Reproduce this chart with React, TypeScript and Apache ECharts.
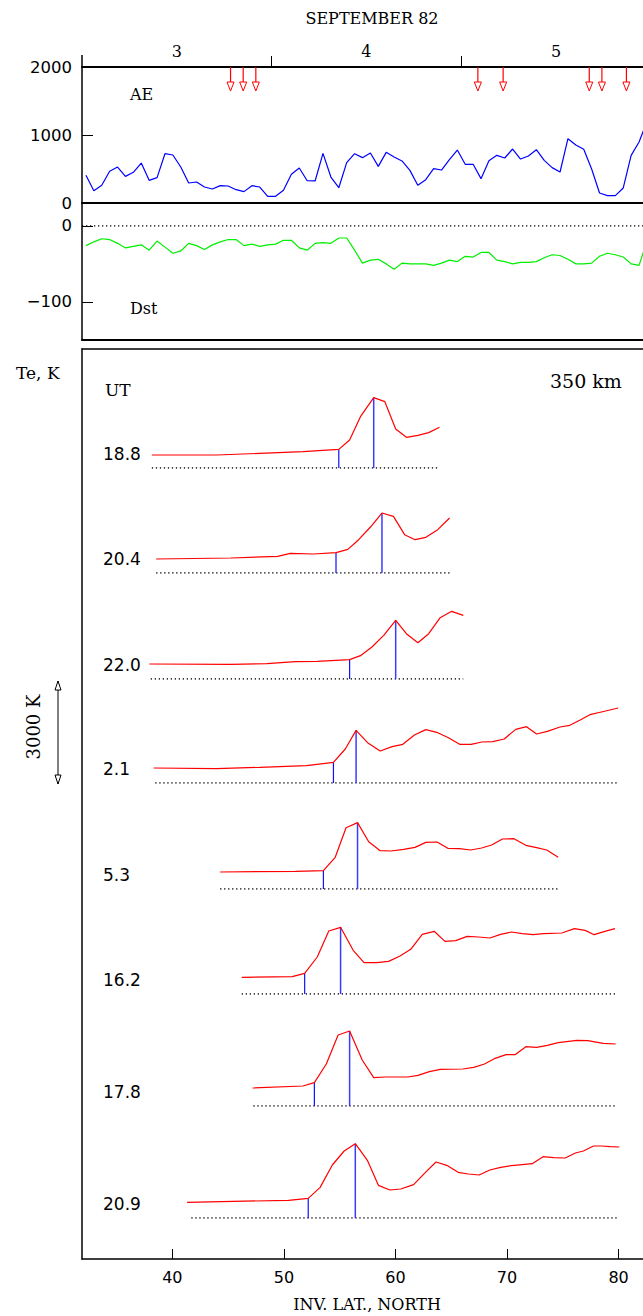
import React, { useEffect, useRef } from 'react';
import * as echarts from 'echarts';

// ---------- Top panels: hourly AE and Dst, 3-5 September 1982 (hours from 3 Sep 00 UT)
const DAYS = ['3', '4', '5'];
const AE = [407, 181, 260, 466, 529, 392, 451, 588, 333, 373, 725, 706, 529, 294, 309, 235, 206, 255, 250, 196,
  167, 255, 235, 98, 98, 186, 422, 515, 328, 324, 730, 382, 225, 593, 725, 667, 735, 539, 745, 676,
  618, 480, 260, 343, 505, 485, 637, 779, 569, 569, 358, 622, 701, 662, 794, 647, 691, 784, 627, 520,
  456, 946, 853, 789, 500, 147, 108, 108, 221, 701, 897, 1200];
const DST = [-26, -21, -17, -18, -23, -29, -27, -25, -32, -20, -28, -36, -33, -23, -26, -31, -25, -21, -18, -18,
  -26, -24, -27, -25, -24, -19, -19, -29, -32, -23, -22, -23, -16, -16, -32, -49, -45, -44, -50, -57,
  -49, -50, -50, -50, -52, -49, -45, -47, -40, -41, -35, -35, -45, -47, -50, -48, -48, -47, -42, -38,
  -39, -44, -50, -50, -49, -40, -36, -38, -41, -50, -52, -20];
const AE_TICKS = [0, 1000, 2000];
const DST_TICKS = [0, -100];

// ---------- Te profiles at 350 km (Te above the dotted reference, K)
const PROFILE_UT = ['18.8', '20.4', '22.0', '2.1', '5.3', '16.2', '17.8', '20.9'];
const PROFILE_DAY = [3, 3, 3, 5, 5, 5, 5, 5];

const LAT_188 = [38.16, 43.96, 47.83, 51.7, 54.92, 55.89, 56.86, 58.05, 59.05, 60.02, 60.98, 62.01, 62.98, 63.95];
const TE_188 = [371, 371, 419, 466, 533, 800, 1467, 2010, 1895, 1114, 876, 933, 1010, 1162];

const LAT_204 = [38.55, 45.25, 49.44, 50.57, 52.66, 54.67, 55.73, 56.7, 57.76, 58.79, 59.82, 60.82, 61.76, 62.72, 63.79, 64.85];
const TE_204 = [400, 429, 476, 562, 543, 581, 676, 952, 1314, 1714, 1619, 1095, 952, 1019, 1238, 1571];

const LAT_220 = [37.94, 45.25, 48.47, 51.05, 52.99, 55.89, 56.86, 57.89, 58.95, 60.02, 60.98, 62.01, 62.98, 64.01, 65.04, 66.08];
const TE_220 = [429, 419, 438, 495, 505, 552, 667, 914, 1248, 1676, 1295, 1038, 1295, 1752, 1933, 1819];

const LAT_21 = [38.32, 43.96, 47.83, 52.02, 54.44, 55.5, 56.47, 57.5, 58.63, 59.7, 60.66, 61.7, 62.72, 63.79, 64.75, 65.75,
  66.79, 67.75, 68.72, 69.75, 70.78, 71.75, 72.65, 73.62, 74.75, 75.62, 76.52, 77.43, 78.46, 79.97];
const TE_21 = [429, 410, 448, 495, 590, 971, 1505, 1152, 914, 1038, 1105, 1371, 1524, 1438, 1295, 1105,
  1105, 1171, 1181, 1257, 1533, 1610, 1400, 1476, 1600, 1648, 1791, 1952, 2029, 2143];

const LAT_53 = [44.28, 51.05, 53.54, 54.6, 55.57, 56.6, 57.6, 58.63, 59.6, 60.73, 61.76, 62.72, 63.73, 64.69, 65.72, 66.75,
  67.72, 68.62, 69.59, 70.62, 71.69, 72.65, 73.56, 74.59];
const TE_53 = [486, 505, 524, 905, 1752, 1895, 1352, 1095, 1086, 1133, 1190, 1333, 1343, 1162, 1152, 1114,
  1171, 1257, 1429, 1438, 1248, 1181, 1114, 905];

const LAT_162 = [46.22, 50.74, 51.86, 52.99, 54.02, 55.08, 56.21, 57.18, 58.31, 59.38, 60.41, 61.37, 62.4, 63.47, 64.44, 65.4,
  66.43, 67.43, 68.46, 69.43, 70.4, 71.36, 72.33, 73.3, 74.91, 76.04, 77.0, 77.81, 78.77, 79.68];
const TE_162 = [476, 495, 590, 1057, 1800, 1905, 1248, 895, 895, 933, 1086, 1276, 1705, 1791, 1505, 1524,
  1648, 1628, 1600, 1705, 1771, 1724, 1695, 1724, 1743, 1867, 1819, 1695, 1791, 1867];

const LAT_178 = [47.19, 51.7, 52.73, 53.8, 54.86, 55.89, 57.02, 58.05, 59.11, 61.11, 62.01, 63.04, 64.01, 66.04, 67.01, 67.98,
  68.94, 69.91, 70.72, 71.69, 72.65, 73.62, 74.59, 76.26, 77.24, 78.62, 79.74];
const TE_178 = [514, 571, 667, 1200, 2029, 2143, 1314, 810, 829, 829, 876, 981, 1048, 1057, 1105, 1200,
  1362, 1467, 1467, 1695, 1676, 1733, 1810, 1876, 1867, 1791, 1771];

const LAT_209 = [41.32, 50.41, 52.18, 53.25, 54.34, 55.4, 56.4, 57.5, 58.47, 59.5, 60.47, 61.63, 62.6, 63.63, 64.6, 65.62,
  66.53, 67.5, 68.46, 69.43, 70.4, 71.36, 72.26, 73.23, 74.19, 75.22, 76.13, 76.84, 77.75, 78.46, 79.27, 80.07];
const TE_209 = [448, 505, 562, 876, 1514, 1914, 2124, 1638, 933, 800, 829, 952, 1276, 1600, 1505, 1305,
  1257, 1229, 1371, 1448, 1495, 1524, 1552, 1752, 1724, 1714, 1857, 1914, 2057, 2057, 2038, 2029];

const PROFILE_LATS = [LAT_188, LAT_204, LAT_220, LAT_21, LAT_53, LAT_162, LAT_178, LAT_209];
const PROFILE_TES = [TE_188, TE_204, TE_220, TE_21, TE_53, TE_162, TE_178, TE_209];
const EDGE_LAT = [54.92, 54.67, 55.89, 54.44, 53.54, 51.86, 52.73, 52.18];
const PEAK_LAT = [58.05, 58.79, 60.02, 56.47, 56.6, 55.08, 55.89, 56.4];
const REF_START = [38.16, 38.55, 38.06, 38.47, 44.28, 46.22, 47.26, 41.7];
const REF_END = [63.95, 64.85, 66.08, 79.97, 74.59, 79.75, 79.81, 80.07];
const LAT_TICKS = [40, 50, 60, 70, 80];

// ---------- layout
const W = 643;
const H = 1316;
const LEFT = 82;
const BASELINES = [468, 573, 679, 783, 889, 994, 1106, 1218];
const PX_PER_3000K = 105;
const LAT_MIN = 31.9;
const LAT_MAX = 82.19;
const HOUR_MAX = 71;

const SERIF = 'DejaVu Serif';
const SANS = 'DejaVu Sans';

function interp(xs: number[], ys: number[], x: number) {
  for (let i = 0; i < xs.length - 1; i++) {
    if (x >= xs[i] && x <= xs[i + 1]) {
      const t = (x - xs[i]) / (xs[i + 1] - xs[i] || 1);
      return ys[i] + t * (ys[i + 1] - ys[i]);
    }
  }
  return ys[ys.length - 1];
}

function buildOption() {
  const hours = AE.map((_, i) => i + 0.5);
  const arrowHours = PROFILE_UT.map((ut, i) => (PROFILE_DAY[i] - 3) * 24 + parseFloat(ut));

  const grids: any[] = [
    { left: LEFT, right: 0, top: 67, height: 136 },   // 0 AE
    { left: LEFT, right: 0, top: 203, height: 137 },  // 1 Dst
    { left: LEFT, right: 0, top: 349, height: 910 },  // 2 lower frame
  ];
  const hidden = { show: false };
  const xAxes: any[] = [
    {
      gridIndex: 0, type: 'value', min: 0, max: HOUR_MAX, position: 'bottom',
      axisLine: { show: true, onZero: false, lineStyle: { color: '#000', width: 2 } },
      axisTick: hidden, axisLabel: hidden, splitLine: hidden,
    },
    {
      gridIndex: 0, type: 'value', min: 0, max: HOUR_MAX, position: 'top',
      axisLine: { show: true, onZero: false, lineStyle: { color: '#000', width: 2 } },
      axisTick: { show: true, inside: false, length: 11, customValues: [24, 48], lineStyle: { color: '#000', width: 1 } },
      axisLabel: {
        show: true, customValues: [12, 36, 60], margin: 8,
        formatter: (v: number) => DAYS[Math.floor(v / 24)],
        fontFamily: SERIF, fontSize: 16, color: '#000',
      },
      splitLine: hidden,
    },
    {
      gridIndex: 1, type: 'value', min: 0, max: HOUR_MAX, position: 'bottom',
      axisLine: { show: true, onZero: false, lineStyle: { color: '#000', width: 2 } },
      axisTick: hidden, axisLabel: hidden, splitLine: hidden,
    },
    {
      gridIndex: 2, type: 'value', min: LAT_MIN, max: LAT_MAX, position: 'bottom',
      axisLine: { show: true, onZero: false, lineStyle: { color: '#000', width: 1.5 } },
      axisTick: { show: true, inside: true, length: 10, customValues: LAT_TICKS, lineStyle: { color: '#000' } },
      axisLabel: { show: true, customValues: LAT_TICKS, margin: 10, fontFamily: SANS, fontSize: 16, color: '#000' },
      splitLine: hidden,
    },
    {
      gridIndex: 2, type: 'value', min: LAT_MIN, max: LAT_MAX, position: 'top',
      axisLine: { show: true, onZero: false, lineStyle: { color: '#000', width: 1.5 } },
      axisTick: hidden, axisLabel: hidden, splitLine: hidden,
    },
  ];
  const yAxes: any[] = [
    {
      gridIndex: 0, type: 'value', min: 0, max: 2000,
      axisLine: { show: true, onZero: false, lineStyle: { color: '#000', width: 1.5 } },
      axisTick: { show: true, inside: true, length: 11, customValues: AE_TICKS, lineStyle: { color: '#000' } },
      axisLabel: {
        show: true, customValues: AE_TICKS, margin: 10, fontFamily: SANS, fontSize: 16.5, color: '#000',
        formatter: (v: number) => String(v),
      },
      splitLine: hidden,
    },
    {
      gridIndex: 1, type: 'value', min: -150, max: 30,
      axisLine: { show: true, onZero: false, lineStyle: { color: '#000', width: 1.5 } },
      axisTick: { show: true, inside: true, length: 11, customValues: DST_TICKS, lineStyle: { color: '#000' } },
      axisLabel: {
        show: true, customValues: DST_TICKS, margin: 10, fontFamily: SANS, fontSize: 16.5, color: '#000',
        formatter: (v: number) => (v < 0 ? '\u2212' + Math.abs(v) : String(v)),
      },
      splitLine: hidden,
    },
    {
      gridIndex: 2, type: 'value', min: 0, max: 1,
      axisLine: { show: true, onZero: false, lineStyle: { color: '#000', width: 1.5 } },
      axisTick: hidden, axisLabel: hidden, splitLine: hidden,
    },
  ];

  const series: any[] = [
    {
      type: 'line', xAxisIndex: 0, yAxisIndex: 0, showSymbol: false, silent: true,
      data: hours.map((h, i) => [h, AE[i]]),
      lineStyle: { color: '#0000ff', width: 1.2 },
    },
    {
      type: 'custom', xAxisIndex: 0, yAxisIndex: 0, silent: true,
      data: arrowHours.map((h) => [h]),
      encode: { x: 0 },
      renderItem: (_p: any, api: any) => {
        const c = api.coord([api.value(0), 2000]);
        const x = c[0];
        const y = c[1];
        return {
          type: 'group',
          children: [
            { type: 'line', shape: { x1: x, y1: y, x2: x, y2: y + 15 }, style: { stroke: '#ff0000', lineWidth: 1.2 } },
            {
              type: 'polygon',
              shape: { points: [[x - 3.5, y + 15], [x + 3.5, y + 15], [x, y + 24]] },
              style: { fill: '#fff', stroke: '#ff0000', lineWidth: 1 },
            },
          ],
        };
      },
    },
    {
      type: 'line', xAxisIndex: 2, yAxisIndex: 1, showSymbol: false, silent: true,
      data: [[0, 0], [HOUR_MAX, 0]],
      lineStyle: { color: '#000', width: 1.3, type: [1.3, 2.7] },
    },
    {
      type: 'line', xAxisIndex: 2, yAxisIndex: 1, showSymbol: false, silent: true,
      data: hours.map((h, i) => [h, DST[i]]),
      lineStyle: { color: '#00ee00', width: 1.2 },
    },
  ];

  const graphic: any[] = [
    { type: 'line', shape: { x1: LEFT, y1: 55, x2: LEFT, y2: 67 }, style: { stroke: '#000', lineWidth: 1.5 } },
    { type: 'text', x: 372, y: 18, style: { text: 'SEPTEMBER 82', font: `16px "${SERIF}"`, fill: '#000', align: 'center', verticalAlign: 'middle' } },
    { type: 'text', x: 130, y: 94, style: { text: 'AE', font: `16px "${SERIF}"`, fill: '#000', align: 'left', verticalAlign: 'middle' } },
    { type: 'text', x: 130, y: 308, style: { text: 'Dst', font: `16px "${SERIF}"`, fill: '#000', align: 'left', verticalAlign: 'middle' } },
    { type: 'text', x: 16, y: 373, style: { text: 'Te, K', font: `17px "${SERIF}"`, fill: '#000', align: 'left', verticalAlign: 'middle' } },
    { type: 'text', x: 105, y: 390, style: { text: 'UT', font: `17px "${SERIF}"`, fill: '#000', align: 'left', verticalAlign: 'middle' } },
    { type: 'text', x: 550, y: 381, style: { text: '350 km', font: `19px "${SERIF}"`, fill: '#000', align: 'left', verticalAlign: 'middle' } },
    { type: 'text', x: 367, y: 1304, style: { text: 'INV. LAT., NORTH', font: `16px "${SERIF}"`, fill: '#000', align: 'center', verticalAlign: 'middle' } },
    {
      type: 'text', x: 33, y: 727, rotation: Math.PI / 2,
      style: { text: '3000 K', font: `18px "${SERIF}"`, fill: '#000', align: 'center', verticalAlign: 'middle' },
    },
    { type: 'line', shape: { x1: 58, y1: 681, x2: 58, y2: 784 }, style: { stroke: '#000', lineWidth: 1 } },
    { type: 'polygon', shape: { points: [[58, 681], [55, 690], [61, 690]] }, style: { fill: '#fff', stroke: '#000', lineWidth: 1 } },
    { type: 'polygon', shape: { points: [[58, 784], [55, 775], [61, 775]] }, style: { fill: '#fff', stroke: '#000', lineWidth: 1 } },
  ];

  PROFILE_LATS.forEach((lats, i) => {
    const tes = PROFILE_TES[i];
    const gi = grids.length;
    grids.push({ left: LEFT, right: 0, top: BASELINES[i] - PX_PER_3000K, height: PX_PER_3000K });
    const xi = xAxes.length;
    xAxes.push({ gridIndex: gi, type: 'value', min: LAT_MIN, max: LAT_MAX, show: false });
    const yi = yAxes.length;
    yAxes.push({ gridIndex: gi, type: 'value', min: 0, max: 3000, show: false });
    const edgeTe = interp(lats, tes, EDGE_LAT[i]);
    const peakTe = interp(lats, tes, PEAK_LAT[i]);
    series.push(
      {
        type: 'line', xAxisIndex: xi, yAxisIndex: yi, showSymbol: false, silent: true,
        data: [[REF_START[i], 0], [REF_END[i], 0]],
        lineStyle: { color: '#000', width: 1.3, type: [1.3, 2.7] },
      },
      {
        type: 'line', xAxisIndex: xi, yAxisIndex: yi, showSymbol: false, silent: true,
        data: [[EDGE_LAT[i], 0], [EDGE_LAT[i], edgeTe]],
        lineStyle: { color: '#1010ff', width: 1.2 },
      },
      {
        type: 'line', xAxisIndex: xi, yAxisIndex: yi, showSymbol: false, silent: true,
        data: [[PEAK_LAT[i], 0], [PEAK_LAT[i], peakTe]],
        lineStyle: { color: '#3c3cff', width: 1.5 },
      },
      {
        type: 'line', xAxisIndex: xi, yAxisIndex: yi, showSymbol: false, silent: true,
        data: lats.map((l, k) => [l, tes[k]]),
        lineStyle: { color: '#ff0000', width: 1.2 },
      },
    );
    graphic.push({
      type: 'text', x: 103, y: BASELINES[i] - 14,
      style: { text: PROFILE_UT[i], font: `17px "${SANS}"`, fill: '#000', align: 'left', verticalAlign: 'middle' },
    });
  });

  grids.forEach((g) => { g.containLabel = false; g.outerBoundsMode = 'none'; });

  return {
    animation: false,
    backgroundColor: '#fff',
    grid: grids,
    xAxis: xAxes,
    yAxis: yAxes,
    series,
    graphic,
  };
}

export default function App() {
  const ref = useRef<HTMLDivElement>(null);
  useEffect(() => {
    if (!ref.current) return;
    const chart = echarts.init(ref.current, undefined, { renderer: 'svg' });
    chart.setOption(buildOption() as any);
    return () => chart.dispose();
  }, []);
  return (
    <div
      ref={ref}
      style={{ position: 'absolute', left: 0, top: 0, width: W, height: H, background: '#fff' }}
    />
  );
}
